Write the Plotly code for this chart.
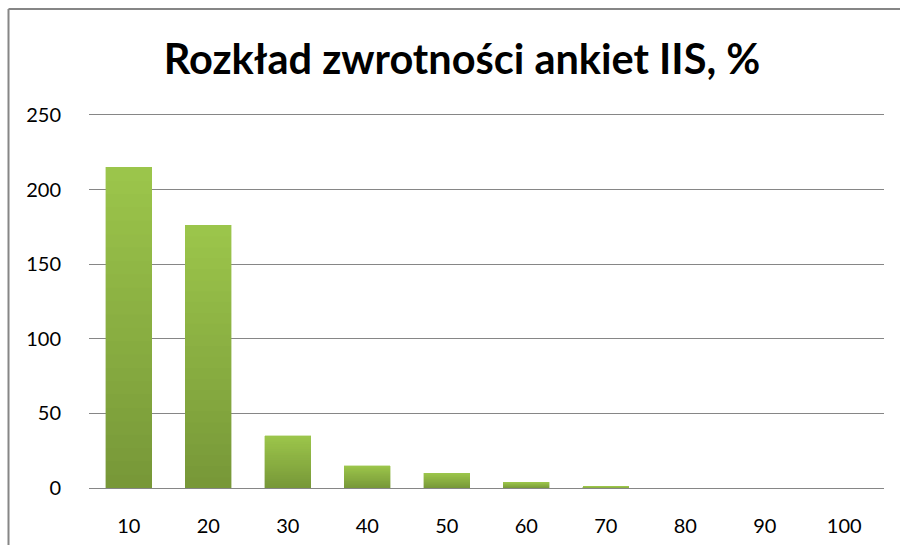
import plotly.graph_objects as go

categories = ["10", "20", "30", "40", "50", "60", "70", "80", "90", "100"]
values = [215, 176, 35, 15, 10, 4, 1, 0, 0, 0]
y_ticks = [0, 50, 100, 150, 200, 250]
title_text = "Rozkład zwrotności ankiet IIS, %"

# gradient colours of the bars (bottom -> top)
color_bottom = (0x77, 0x97, 0x38)
color_top = (0x9C, 0xC6, 0x4B)
n_bands = 24

W, H = 900, 545
L, R, T, B = 89, 16, 112, 57
pw, ph = W - L - R, H - T - B

def px_x(x):
    return (x - L) / pw

def px_y(y):
    return (H - B - y) / ph

fig = go.Figure()
for i in range(n_bands):
    t = (i + 0.5) / n_bands
    c = tuple(round(cb + (ct - cb) * t) for cb, ct in zip(color_bottom, color_top))
    fig.add_trace(go.Bar(
        x=categories, y=[v / n_bands for v in values],
        customdata=values,
        hovertemplate="%{x}: %{customdata}<extra></extra>",
        marker=dict(color="rgb(%d,%d,%d)" % c, line=dict(width=0.4, color="rgb(%d,%d,%d)" % c)),
        width=0.58,
    ))

fig.update_layout(
    width=W, height=H,
    margin=dict(l=L, r=R, t=T, b=B, autoexpand=False),
    paper_bgcolor="white", plot_bgcolor="white",
    showlegend=False,
    barmode="stack",
    font=dict(family="Lato, Open Sans, sans-serif", color="#000000", size=20),
    title=dict(text="<b>" + title_text + "</b>", x=462 / W,
               xanchor="center", xref="container", y=1 - 59 / H, yanchor="middle",
               yref="container",
               font=dict(size=41.5, family="Lato, sans-serif", color="#000")),
    xaxis=dict(type="category", showgrid=False, showline=False, zeroline=False,
               ticks="", tickfont=dict(size=20), ticklabelstandoff=24,
               automargin=False),
    yaxis=dict(range=[0, 252], tickvals=y_ticks, showgrid=True, gridcolor="#868686",
               gridwidth=1, zeroline=True, zerolinecolor="#868686", zerolinewidth=1,
               showline=False, ticks="", tickfont=dict(size=20), ticklabelstandoff=27,
               automargin=False),
    bargap=0.42,
    shapes=[
        dict(type="line", xref="paper", yref="paper",
             x0=px_x(8.5), x1=px_x(8.5), y0=px_y(9), y1=px_y(H + 5),
             line=dict(color="#868686", width=2)),
        dict(type="line", xref="paper", yref="paper",
             x0=px_x(8.5), x1=px_x(W + 5), y0=px_y(9), y1=px_y(9),
             line=dict(color="#868686", width=2)),
    ],
)

fig.write_html("out.html", config={"displayModeBar": False},
               post_script="document.body.style.margin='0px';")
